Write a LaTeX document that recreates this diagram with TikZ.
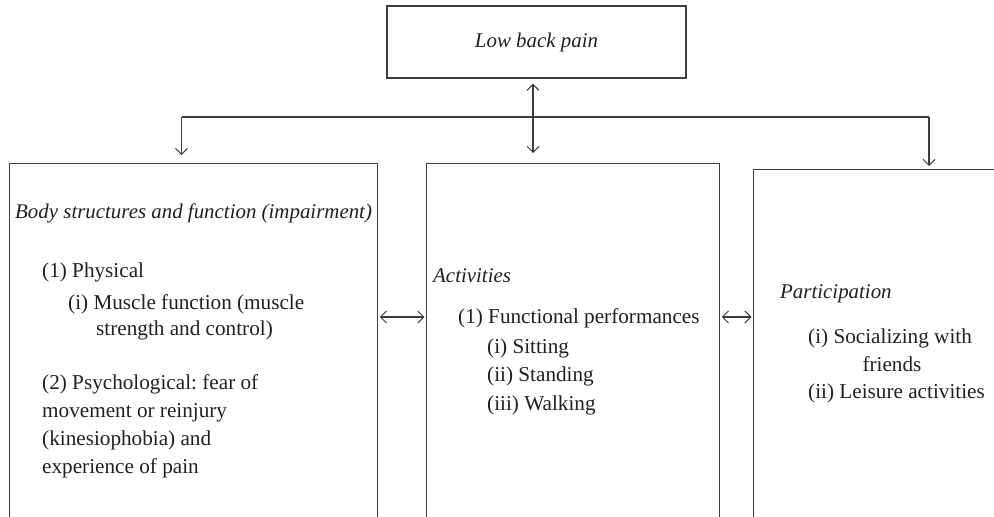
\documentclass[tikz,border=0pt]{standalone}
\usepackage{fontspec}
\setmainfont{Liberation Serif}
\usetikzlibrary{arrows.meta,positioning}
\frenchspacing

\definecolor{linegray}{HTML}{3C3C3C}
\definecolor{txtgray}{HTML}{231F20}

\tikzset{
  barb/.tip={Straight Barb[length=6pt,width=12pt,line width=1pt]},
  box/.style={draw=linegray, line width=1.3pt, inner sep=0pt, anchor=north west},
  lbl/.style={anchor=base west, inner sep=0pt, text=txtgray, font=\fontsize{21.2}{28}\selectfont},
  ttl/.style={lbl, font=\fontsize{20.9}{28}\selectfont\itshape},
  wire/.style={draw=linegray, line width=1.1pt},
  link/.style={wire, -barb},
  both/.style={wire, barb-barb},
}

\begin{document}
\begin{tikzpicture}[x=1pt,y=-1pt]
  \useasboundingbox (0,0) rectangle (994,517);
  \clip (0,0) rectangle (994,517);

  % boxes
  \node[box, anchor=center, minimum width=299pt, minimum height=72pt,
        text=txtgray, font=\fontsize{20.9}{28}\selectfont\itshape] (lbp) at (536.5,42) {Low back pain};
  \node[box, minimum width=368pt, minimum height=400pt] (body) at (9,163) {};
  \node[box, minimum width=293pt, minimum height=400pt] (act) at (426,163) {};
  \node[box, minimum width=300pt, minimum height=400pt] (part) at (753,169) {};

  % connectors
  \coordinate (hl) at (181.5,117);
  \coordinate (hub) at (533,117);
  \coordinate (hr) at (929,117);
  \coordinate (mid) at (0,317);
  \draw[wire] (hl) -- (hr);
  \draw[link, shorten >=8pt] (hl) -- (body.north -| hl);
  \draw[link, shorten >=3pt] (hr) -- (part.north -| hr);
  \draw[both, shorten <=5pt, shorten >=10pt] (lbp.south -| hub) -- (act.north -| hub);
  \draw[both, shorten <=1.5pt, shorten >=1.5pt] (body.east |- mid) -- (act.west |- mid);
  \draw[both, shorten <=1.5pt, shorten >=1.5pt] (act.east |- mid) -- (part.west |- mid);

  % body structures
  \node[ttl] (bodyttl) at (15,218) {Body structures and function (impairment)};
  \node[lbl] (phys) at (42,277) {(1) Physical};
  \node[lbl] (musc) at (68,309) {(i) Muscle function (muscle};
  \node[lbl] (musc2) at (96,335) {strength and control)};
  \foreach \t [count=\i] in {(2) Psychological: fear of, movement or reinjury,
                             (kinesiophobia) and, experience of pain}
    \node[lbl] (psy\i) at (42,{389+28.3*(\i-1)}) {\t};

  % activities
  \node[ttl] (actttl) at (433,282) {Activities};
  \node[lbl] (func) at (458,323) {(1) Functional performances};
  \foreach \t [count=\i] in {(i) Sitting, (ii) Standing, (iii) Walking}
    \node[lbl] (task\i) at (487,{353+28.5*(\i-1)}) {\t};

  % participation
  \node[ttl] (partttl) at (780,298) {Participation};
  \node[lbl] (soc) at (808,343) {(i) Socializing with};
  \node[lbl, anchor=base] (soc2) at (892,371) {friends};
  \node[lbl] (leis) at (808,398) {(ii) Leisure activities};
\end{tikzpicture}
\end{document}
